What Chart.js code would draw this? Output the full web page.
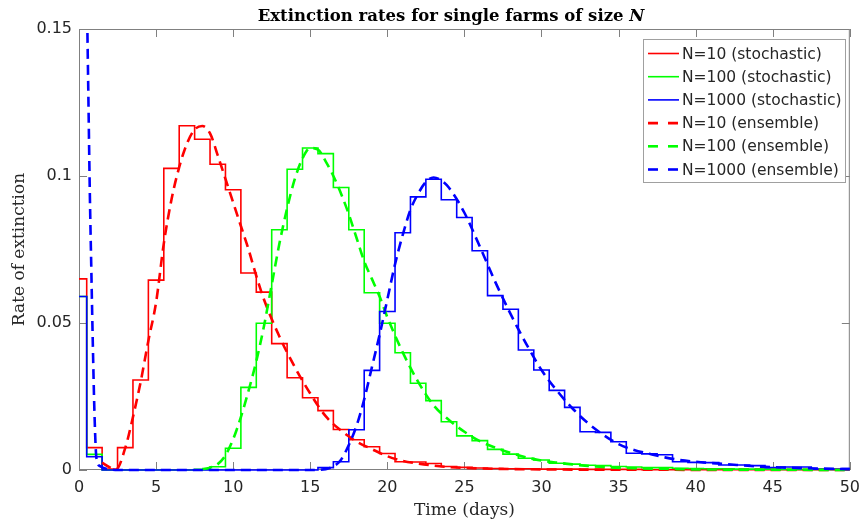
<!DOCTYPE html>
<html>
<head>
<meta charset="utf-8">
<script src="https://cdn.jsdelivr.net/npm/chart.js@4.4.1/dist/chart.umd.min.js"></script>
<style>
  html, body { margin: 0; padding: 0; background: #fff; }
  #wrap { width: 868px; height: 523px; }
</style>
</head>
<body>
<div id="wrap"><canvas id="chart" width="868" height="523"></canvas></div>
<script>
// DATA
// stochastic histograms, one value per day (bins centred on whole days)
const days = [];
for (let d = 0; d <= 50; d++) days.push(d);

const stoch10 = [
  0.065, 0.0076, 0.0003, 0.0076, 0.0306, 0.0646, 0.1026, 0.1171, 0.1125, 0.104,
  0.0953, 0.067, 0.0605, 0.043, 0.0314, 0.0246, 0.0202, 0.0138, 0.0103, 0.0079,
  0.0056, 0.0028, 0.0027, 0.0022, 0.0012, 0.0009, 0.0007, 0.0005, 0.0004, 0.0004,
  0.0003, 0.0003, 0.0003, 0.0002, 0.0002, 0.0002, 0.0002, 0.0001, 0.0001, 0.0001,
  0.0001, 0.0001, 0.0001, 0.0001, 0.0001, 0.0001, 0.0001, 0.0001, 0.0001, 0.0001, 0.0001
];
const stoch100 = [
  0.059, 0.0053, 0, 0, 0, 0, 0, 0, 0.0002, 0.0011,
  0.0074, 0.0281, 0.0499, 0.0817, 0.1023, 0.1095, 0.1076, 0.0961, 0.0817, 0.0603,
  0.0499, 0.0399, 0.0295, 0.0236, 0.0164, 0.0116, 0.01, 0.007, 0.0054, 0.004,
  0.0034, 0.0023, 0.002, 0.0016, 0.0015, 0.0012, 0.001, 0.0008, 0.0008, 0.0006,
  0.0005, 0.0004, 0.0004, 0.0003, 0.0003, 0.0003, 0.0002, 0.0002, 0.0002, 0.0002, 0.0002
];
const stoch1000 = [
  0.059, 0.0045, 0, 0, 0, 0, 0, 0, 0, 0,
  0, 0, 0, 0, 0, 0, 0.0008, 0.0028, 0.0137, 0.0339,
  0.0539, 0.0807, 0.0929, 0.0989, 0.0919, 0.0859, 0.0746, 0.0593, 0.0547, 0.0408,
  0.034, 0.0271, 0.0213, 0.013, 0.0128, 0.0096, 0.0057, 0.0055, 0.0052, 0.0028,
  0.0026, 0.0025, 0.0017, 0.0017, 0.0015, 0.0008, 0.001, 0.001, 0.0003, 0.0003, 0.0005
];

// ensemble curves
const ens10Days = [1.5, 2, 2.4, 3, 3.5, 4, 4.5, 5, 5.5, 6, 6.5, 7, 7.5, 8, 8.5, 9, 9.5, 10, 10.5, 11,
  11.5, 12, 13, 14, 15, 16, 17, 18, 19, 20, 21, 22, 23, 24, 25, 27, 30, 35, 40, 50];
const ens10Rate = [0.0025, 0.0009, 0.0002, 0.0075, 0.018, 0.03, 0.044, 0.057, 0.077, 0.092, 0.103, 0.111,
  0.1158, 0.117, 0.1145, 0.107, 0.099, 0.091, 0.083, 0.075, 0.066, 0.058, 0.0454, 0.035, 0.026,
  0.0183, 0.0134, 0.0097, 0.0071, 0.0047, 0.0031, 0.0022, 0.0015, 0.001, 0.0007, 0.0004, 0.0002,
  0.0001, 0.00005, 0];

const ens100Days = [8, 8.5, 9, 9.5, 10, 10.5, 11, 11.5, 12, 12.5, 13, 13.5, 14, 14.5, 15, 15.5, 16,
  16.5, 17, 17.5, 18, 18.5, 19, 19.5, 20, 21, 22, 23, 24, 25, 26, 27, 28, 29, 30, 31, 32, 33, 34,
  36, 38, 40, 45, 50];
const ens100Rate = [0.0003, 0.0008, 0.002, 0.005, 0.0105, 0.018, 0.027, 0.037, 0.049, 0.063, 0.077,
  0.089, 0.099, 0.106, 0.1095, 0.109, 0.105, 0.1, 0.094, 0.087, 0.079, 0.071, 0.065, 0.059, 0.052,
  0.04, 0.03, 0.022, 0.017, 0.013, 0.0098, 0.0076, 0.0058, 0.0043, 0.0032, 0.0025, 0.0019, 0.0014,
  0.001, 0.0006, 0.0004, 0.0002, 0.0001, 0];

const ens1000Days = [0.5, 0.6, 0.7, 0.8, 0.9, 1.0, 1.1, 1.2, 1.4, 1.7, 2, 2.5, 15, 16, 16.5, 17,
  17.5, 18, 18.5, 19, 19.5, 20, 20.5, 21, 21.5, 22, 22.5, 23, 23.5, 24, 25, 26, 27, 28, 29, 30,
  31, 32, 33, 34, 35, 36, 37, 38, 39, 40, 42, 44, 46, 48, 50];
const ens1000Rate = [0.165, 0.13, 0.095, 0.068, 0.042, 0.02, 0.006, 0.0025, 0.0012, 0.0005, 0.0002,
  0, 0, 0.0003, 0.0012, 0.0035, 0.0085, 0.015, 0.024, 0.035, 0.046, 0.058, 0.07, 0.08, 0.0885,
  0.094, 0.098, 0.0995, 0.0985, 0.096, 0.0875, 0.076, 0.064, 0.053, 0.043, 0.034, 0.027, 0.021,
  0.016, 0.012, 0.0088, 0.0068, 0.0055, 0.0043, 0.0034, 0.0028, 0.002, 0.0012, 0.0008, 0.0005, 0.0003];

const xTicks = [0, 5, 10, 15, 20, 25, 30, 35, 40, 45, 50];
const yTicks = [0, 0.05, 0.1, 0.15];

// CHART
const RED = "#ff0000";
const GREEN = "#00ff00";
const BLUE = "#0000ff";
const AXIS = "#808080";
const TEXT = "#262626";
const SANS = "'DejaVu Sans', sans-serif";
const SERIF = "'DejaVu Serif', serif";
const CLIP = { left: 3, right: 3, top: 0, bottom: 3 };

function pts(xs, ys) {
  return xs.map((x, i) => ({ x, y: ys[i] }));
}

function stochSet(label, ys, color) {
  return {
    label,
    data: pts(days, ys),
    borderColor: color,
    borderWidth: 1.6,
    stepped: "middle",
    pointRadius: 0,
    fill: false,
    clip: CLIP,
  };
}

function ensSet(label, xs, ys, color) {
  return {
    label,
    data: pts(xs, ys),
    borderColor: color,
    borderWidth: 2.6,
    borderDash: [10, 6],
    cubicInterpolationMode: "monotone",
    pointRadius: 0,
    fill: false,
    clip: CLIP,
  };
}

const datasets = [
  stochSet("N=10 (stochastic)", stoch10, RED),
  stochSet("N=100 (stochastic)", stoch100, GREEN),
  stochSet("N=1000 (stochastic)", stoch1000, BLUE),
  ensSet("N=10 (ensemble)", ens10Days, ens10Rate, RED),
  ensSet("N=100 (ensemble)", ens100Days, ens100Rate, GREEN),
  ensSet("N=1000 (ensemble)", ens1000Days, ens1000Rate, BLUE),
];
// later series on top, like matlab
datasets.forEach((ds, i) => (ds.order = datasets.length - 1 - i));

// frame and inward ticks under the data
const frame = {
  id: "frame",
  beforeDatasetsDraw(chart) {
    const { ctx, chartArea: a, scales } = chart;
    ctx.save();
    ctx.strokeStyle = AXIS;
    ctx.lineWidth = 1;
    ctx.beginPath();
    ctx.rect(a.left + 0.5, a.top + 0.5, a.right - a.left - 1, a.bottom - a.top - 1);
    const tl = 8;
    xTicks.forEach((v) => {
      const x = Math.round(scales.x.getPixelForValue(v)) + 0.5;
      ctx.moveTo(x, a.bottom); ctx.lineTo(x, a.bottom - tl);
      ctx.moveTo(x, a.top); ctx.lineTo(x, a.top + tl);
    });
    yTicks.forEach((v) => {
      const y = Math.round(scales.y.getPixelForValue(v)) + 0.5;
      ctx.moveTo(a.left, y); ctx.lineTo(a.left + tl, y);
      ctx.moveTo(a.right, y); ctx.lineTo(a.right - tl, y);
    });
    ctx.stroke();
    ctx.restore();
  },
};

// titles and legend
const decor = {
  id: "decor",
  afterDatasetsDraw(chart) {
    const { ctx, chartArea: a } = chart;
    ctx.save();

    // title, N in italics
    ctx.fillStyle = "#000";
    ctx.textBaseline = "alphabetic";
    ctx.textAlign = "left";
    const t1 = "Extinction rates for single farms of size ";
    ctx.font = "bold 16.5px " + SERIF;
    const w1 = ctx.measureText(t1).width;
    ctx.font = "italic bold 16.5px " + SERIF;
    const w2 = ctx.measureText("N").width;
    const x0 = 451 - (w1 + w2) / 2;
    ctx.font = "bold 16.5px " + SERIF;
    ctx.fillText(t1, x0, 21);
    ctx.font = "italic bold 16.5px " + SERIF;
    ctx.fillText("N", x0 + w1, 21);

    // axis titles
    ctx.fillStyle = TEXT;
    ctx.font = "17px " + SERIF;
    ctx.textAlign = "center";
    ctx.fillText("Time (days)", (a.left + a.right) / 2, 515);
    ctx.save();
    ctx.translate(24, (a.top + a.bottom) / 2);
    ctx.rotate(-Math.PI / 2);
    ctx.fillText("Rate of extinction", 0, 0);
    ctx.restore();

    // legend box
    const lx = 643, ly = 39, lw = 202, lh = 143;
    ctx.fillStyle = "#fff";
    ctx.fillRect(lx, ly, lw, lh);
    ctx.strokeStyle = "#a0a0a0";
    ctx.lineWidth = 1;
    ctx.strokeRect(lx + 0.5, ly + 0.5, lw, lh);
    ctx.font = "15.5px " + SANS;
    ctx.textAlign = "left";
    ctx.textBaseline = "middle";
    chart.data.datasets.forEach((ds, i) => {
      const y = 53.5 + i * 23.2;
      ctx.strokeStyle = ds.borderColor;
      ctx.lineWidth = ds.borderDash ? 2.6 : 1.6;
      ctx.setLineDash(ds.borderDash ? [10, 10] : []);
      ctx.beginPath();
      ctx.moveTo(648, y);
      ctx.lineTo(679, y);
      ctx.stroke();
      ctx.setLineDash([]);
      ctx.fillStyle = TEXT;
      ctx.fillText(ds.label, 682, y + 1);
    });
    ctx.restore();
  },
};

new Chart(document.getElementById("chart"), {
  type: "line",
  data: { datasets },
  options: {
    responsive: false,
    animation: false,
    layout: { padding: { left: 0, top: 29, right: 13, bottom: 0 } },
    plugins: {
      legend: { display: false },
      tooltip: { enabled: false },
    },
    scales: {
      x: {
        type: "linear",
        min: 0,
        max: 50,
        grid: { display: false, drawTicks: false },
        border: { display: false },
        ticks: {
          stepSize: 5,
          color: TEXT,
          padding: 8,
          maxRotation: 0,
          font: { family: SANS, size: 16 },
        },
        afterFit: (s) => { s.height = 53; },
      },
      y: {
        min: 0,
        max: 0.15,
        grid: { display: false, drawTicks: false },
        border: { display: false },
        ticks: {
          stepSize: 0.05,
          color: TEXT,
          padding: 7,
          font: { family: SANS, size: 16 },
          callback: (v) => String(+v.toFixed(2)),
        },
        afterFit: (s) => { s.width = 79; },
      },
    },
  },
  plugins: [frame, decor],
});
</script>
</body>
</html>
